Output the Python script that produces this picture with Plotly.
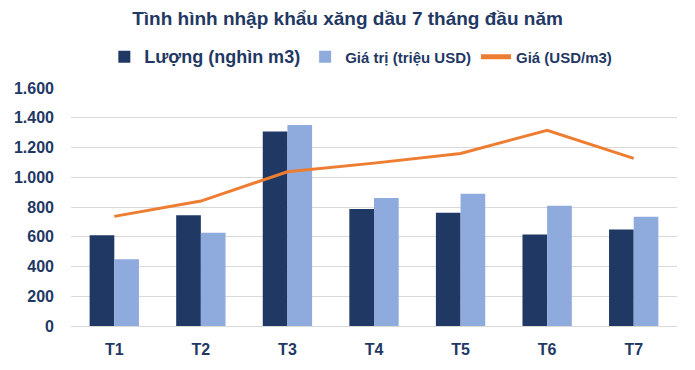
import plotly.graph_objects as go

months = ["T1", "T2", "T3", "T4", "T5", "T6", "T7"]
luong = [610, 744, 1307, 787, 762, 615, 649]
gia_tri = [449, 627, 1351, 860, 889, 809, 735]
gia = [737, 840, 1037, 1095, 1160, 1315, 1127]
y_ticks = [0, 200, 400, 600, 800, 1000, 1200, 1400, 1600]

navy = "#1F3864"
fnt = "Liberation Sans"

fig = go.Figure()
fig.add_trace(go.Bar(x=months, y=luong,
                     name='<span style="font-size:18px">Lượng (nghìn m3)</span>',
                     marker=dict(color="#203864", line=dict(width=0))))
fig.add_trace(go.Bar(x=months, y=gia_tri, name="Giá trị (triệu USD)",
                     marker=dict(color="#8FAADC", line=dict(width=0))))
fig.add_trace(go.Scatter(x=months, y=gia, name="Giá (USD/m3)", mode="lines",
                         line=dict(color="#ED7D31", width=3)))

fig.update_layout(
    width=695, height=370,
    margin=dict(l=71, r=18, t=88, b=42),
    paper_bgcolor="white", plot_bgcolor="white",
    separators=",.",
    barmode="group", bargap=0.43, bargroupgap=0,
    title=dict(text="Tình hình nhập khẩu xăng dầu 7 tháng đầu năm",
               x=0.5, xanchor="center", y=1 - 18 / 370, yanchor="middle",
               font=dict(family=fnt, size=19, color=navy, weight="bold")),
    legend=dict(orientation="h", x=0.055, xanchor="left", y=1.13, yanchor="middle",
                font=dict(family=fnt, size=15, color=navy, weight="bold"),
                bgcolor="rgba(0,0,0,0)", itemsizing="constant", tracegroupgap=0),
    font=dict(family=fnt, color=navy),
)
fig.update_xaxes(showgrid=False, showline=False, ticks="", ticklabelstandoff=12,
                 tickfont=dict(family=fnt, size=16, color=navy, weight="bold"))
fig.update_yaxes(range=[0, 1600], tickvals=y_ticks, tickformat=",d",
                 showgrid=True, gridcolor="#D9D9D9", gridwidth=1,
                 zeroline=True, zerolinecolor="#D9D9D9", zerolinewidth=1,
                 showline=False, ticks="", ticklabelstandoff=16,
                 tickfont=dict(family=fnt, size=16, color=navy, weight="bold"))

fig.write_html("out.html")
